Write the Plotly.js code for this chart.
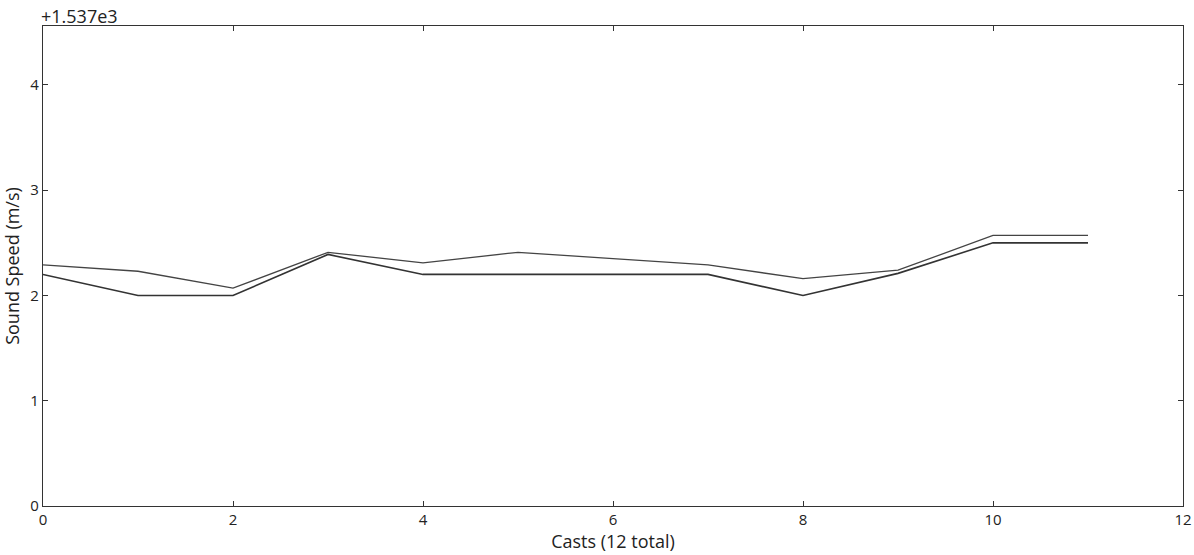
<!DOCTYPE html>
<html>
<head>
<meta charset="utf-8">
<script src="https://cdn.plot.ly/plotly-3.0.1.min.js"></script>
<style>html,body{margin:0;padding:0;background:#fff;}#chart{width:1194px;height:555px;}</style>
</head>
<body>
<div id="chart"></div>
<script>
const casts = [0, 1, 2, 3, 4, 5, 6, 7, 8, 9, 10, 11];
const speedA = [2.29, 2.23, 2.07, 2.41, 2.31, 2.41, 2.35, 2.29, 2.16, 2.24, 2.57, 2.57];
const speedB = [2.20, 2.00, 2.00, 2.39, 2.20, 2.20, 2.20, 2.20, 2.00, 2.21, 2.50, 2.50];
const offsetLabel = "+1.537e3";
const xTicks = [0, 2, 4, 6, 8, 10, 12];
const yTicks = [0, 1, 2, 3, 4];

const font = {family: "Open Sans, DejaVu Sans, sans-serif", size: 15, color: "#222"};
const titleFont = {family: font.family, size: 18, color: "#222"};
const traces = [
  {x: casts, y: speedA, mode: "lines", line: {color: "#444", width: 1.3}, showlegend: false},
  {x: casts, y: speedB, mode: "lines", line: {color: "#333", width: 1.6}, showlegend: false}
];
const axisCommon = {
  showgrid: false, zeroline: false, showline: true, linecolor: "#333", linewidth: 1.2,
  mirror: "ticks", ticks: "inside", ticklen: 5, tickcolor: "#333", tickwidth: 1,
  tickfont: font
};
const layout = {
  width: 1194, height: 555,
  margin: {l: 43, r: 11, t: 26, b: 49},
  paper_bgcolor: "#fff", plot_bgcolor: "#fff",
  font: font,
  xaxis: Object.assign({}, axisCommon, {
    range: [0, 12], tickvals: xTicks, ticktext: xTicks.map(String),
    title: {text: "Casts (12 total)", font: titleFont, standoff: 2}
  }),
  yaxis: Object.assign({}, axisCommon, {
    range: [0, 4.56], tickvals: yTicks, ticktext: yTicks.map(String),
    title: {text: "Sound Speed (m/s)", font: titleFont, standoff: 6}
  }),
  annotations: [{
    text: offsetLabel, xref: "paper", yref: "paper", x: 0, y: 1,
    xanchor: "left", yanchor: "bottom", showarrow: false,
    font: {family: font.family, size: 18, color: "#222"},
    xshift: -4, yshift: -4
  }]
};
Plotly.newPlot("chart", traces, layout, {staticPlot: true, displayModeBar: false});
</script>
</body>
</html>
